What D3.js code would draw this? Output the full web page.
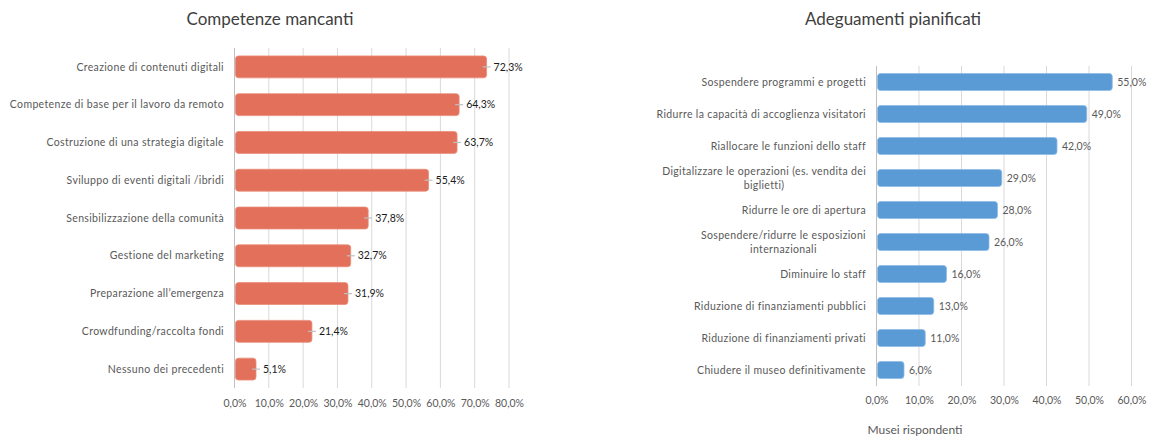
<!DOCTYPE html>
<html>
<head>
<meta charset="utf-8">
<script src="https://cdn.jsdelivr.net/npm/d3@7"></script>
<style>
  html, body { margin: 0; padding: 0; background: #fff; }
  svg { display: block; font-family: Lato, "Open Sans", sans-serif; }
</style>
</head>
<body>
<svg id="chart" width="1149" height="436"></svg>
<script>
// Competenze mancanti
const skillCategories = [
  "Creazione di contenuti digitali",
  "Competenze di base per il lavoro da remoto",
  "Costruzione di una strategia digitale",
  "Sviluppo di eventi digitali /ibridi",
  "Sensibilizzazione della comunità",
  "Gestione del marketing",
  "Preparazione all’emergenza",
  "Crowdfunding/raccolta fondi",
  "Nessuno dei precedenti"
];
const skillValues = [72.3, 64.3, 63.7, 55.4, 37.8, 32.7, 31.9, 21.4, 5.1];
const skillTicks = [0, 10, 20, 30, 40, 50, 60, 70, 80];

// Adeguamenti pianificati
const planCategories = [
  ["Sospendere programmi e progetti"],
  ["Ridurre la capacità di accoglienza visitatori"],
  ["Riallocare le funzioni dello staff"],
  ["Digitalizzare le operazioni (es. vendita dei", "biglietti)"],
  ["Ridurre le ore di apertura"],
  ["Sospendere/ridurre le esposizioni", "internazionali"],
  ["Diminuire lo staff"],
  ["Riduzione di finanziamenti pubblici"],
  ["Riduzione di finanziamenti privati"],
  ["Chiudere il museo definitivamente"]
];
const planValues = [55, 49, 42, 29, 28, 26, 16, 13, 11, 6];
const planTicks = [0, 10, 20, 30, 40, 50, 60];

const pct = v => d3.format(".1f")(v).replace(".", ",") + "%";
const svg = d3.select("#chart");
const gray = "#595959";

function drawPanel(opt) {
  const g = svg.append("g");
  const x = d3.scaleLinear().domain([0, opt.max]).range([opt.left, opt.right]);
  const y = d3.scaleBand().domain(d3.range(opt.values.length))
    .range([opt.top, opt.bottom]).paddingInner(opt.pad).paddingOuter(opt.pad / 2);

  g.append("text").attr("x", opt.titleX).attr("y", opt.titleY)
    .attr("text-anchor", "middle").attr("fill", "#404040")
    .style("font-size", "17px").text(opt.title);

  // vertical gridlines
  g.selectAll(".grid").data(opt.ticks).join("line")
    .attr("x1", d => x(d)).attr("x2", d => x(d))
    .attr("y1", opt.top).attr("y2", opt.bottom)
    .attr("stroke", d => d === 0 ? "#bfbfbf" : "#d9d9d9").attr("stroke-width", 1);

  // tick labels via d3 axis
  const axis = d3.axisBottom(x).tickValues(opt.ticks).tickFormat(pct).tickSize(0).tickPadding(0);
  const ax = g.append("g").attr("transform", `translate(0,${opt.tickY})`).call(axis);
  ax.select(".domain").remove();
  ax.selectAll("text").attr("fill", gray).style("font-size", "10.5px")
    .style("font-family", "Lato, sans-serif");

  // bars
  g.selectAll(".bar").data(opt.values).join("rect")
    .attr("x", x(0) + 1)
    .attr("y", (d, i) => y(i))
    .attr("width", d => x(d) - x(0) + opt.cap - 1)
    .attr("height", y.bandwidth())
    .attr("rx", 3).attr("ry", 3)
    .attr("fill", opt.color)
    .attr("stroke", opt.stroke).attr("stroke-width", 0.8);

  // leader lines
  if (opt.leader) {
    g.selectAll(".leader").data(opt.values).join("line")
      .attr("x1", d => x(d)).attr("x2", d => x(d) + opt.leader)
      .attr("y1", (d, i) => y(i) + y.bandwidth() / 2)
      .attr("y2", (d, i) => y(i) + y.bandwidth() / 2)
      .attr("stroke", "#bfbfbf").attr("stroke-width", 1.2);
  }

  // value labels
  g.selectAll(".val").data(opt.values).join("text")
    .attr("x", d => x(d) + opt.labelGap)
    .attr("y", (d, i) => y(i) + y.bandwidth() / 2)
    .attr("dy", "0.35em").attr("fill", opt.valueColor)
    .style("font-size", "10.5px").text(pct);

  // category labels (multi-line blocks are centred, block right-aligned)
  opt.cats.forEach((lines, i) => {
    const arr = Array.isArray(lines) ? lines : [lines];
    const t = g.append("text").attr("fill", gray).style("font-size", opt.catSize)
      .style("letter-spacing", "0.35px")
      .attr("text-anchor", "middle");
    const spans = arr.map((s, k) => t.append("tspan").text(s));
    const w = d3.max(spans, s => s.node().getComputedTextLength());
    const cx = opt.catRight - w / 2;
    const cy = y(i) + y.bandwidth() / 2;
    const lh = 14;
    spans.forEach((s, k) => s.attr("x", cx)
      .attr("y", cy + (k - (arr.length - 1) / 2) * lh).attr("dy", "0.35em"));
  });

  if (opt.axisTitle) {
    g.append("text").attr("x", opt.axisTitleX).attr("y", opt.axisTitleY)
      .attr("text-anchor", "middle").attr("fill", gray).style("font-size", "12px")
      .text(opt.axisTitle);
  }
}

drawPanel({
  title: "Competenze mancanti", titleX: 270, titleY: 25,
  cats: skillCategories, values: skillValues, ticks: skillTicks, max: 80,
  left: 234.5, right: 509, top: 48, bottom: 388, pad: 0.42,
  tickY: 400, color: "#E2705A", stroke: "#ea8d7a", cap: 4,
  leader: 8, labelGap: 11, valueColor: "#1a1a1a",
  catRight: 224, catSize: "10.5px"
});

drawPanel({
  title: "Adeguamenti pianificati", titleX: 893, titleY: 25,
  cats: planCategories, values: planValues, ticks: planTicks, max: 60,
  left: 876.5, right: 1131.5, top: 66, bottom: 386, pad: 0.47,
  tickY: 397, color: "#5B9BD5", stroke: "#8fbbe4", cap: 2,
  leader: 0, labelGap: 7, valueColor: gray,
  catRight: 866, catSize: "10.5px",
  axisTitle: "Musei rispondenti", axisTitleX: 915, axisTitleY: 434
});
</script>
</body>
</html>
